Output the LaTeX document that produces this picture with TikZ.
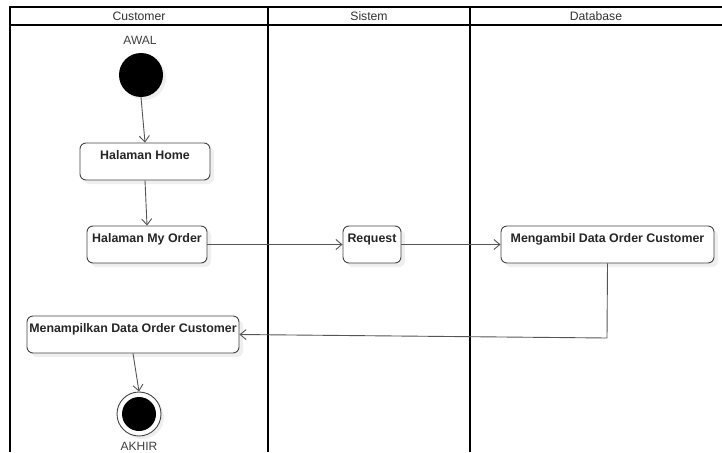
\documentclass[tikz,border=0pt]{standalone}
\usepackage{fontspec}
\setmainfont{Liberation Sans}
\usetikzlibrary{arrows.meta,shadows}
\definecolor{edge}{HTML}{555555}
\definecolor{boxline}{HTML}{444444}
\tikzset{
  lane/.style={draw=black, line width=1.5pt},
  actbox/.style={draw=boxline, line width=0.9pt, rounded corners=6pt, fill=white,
    font=\bfseries\fontsize{12.4}{14}\selectfont, text=black!85,
    inner xsep=2pt, inner ysep=4pt, text height=12pt, text depth=17pt,
    drop shadow={opacity=0.12, shadow xshift=4pt, shadow yshift=-4pt}},
  flow/.style={draw=edge, line width=0.9pt, -{Straight Barb[length=6pt,width=10pt]}},
  lbl/.style={font=\fontsize{12}{14}\selectfont, text=black!75},
  hdr/.style={font=\fontsize{12.2}{14}\selectfont, text=black!80}
}
\begin{document}
\begin{tikzpicture}[x=1pt,y=-1pt]
\useasboundingbox (0,0) rectangle (722,452);
\fill[white] (0,0) rectangle (722,452);
% swimlanes
\draw[lane] (10,452) -- (10,7) -- (723,7);
\draw[lane] (10,25) -- (723,25);
\draw[lane] (268,7) -- (268,452);
\draw[lane] (470,7) -- (470,452);
\node[hdr] (hc) at (139,16) {Customer};
\node[hdr] (hs) at (369,16) {Sistem};
\node[hdr] (hd) at (596,16) {Database};
% start
\node[lbl] (awal) at (140,40) {AWAL};
\node[circle, fill=black, minimum size=44pt, inner sep=0pt,
  drop shadow={opacity=0.12, shadow xshift=3pt, shadow yshift=-3pt}] (start) at (141,75) {};
% boxes
\node[actbox, minimum width=130pt] (home) at (145,161.5) {Halaman Home};
\node[actbox, minimum width=120pt] (myorder) at (147,244.5) {Halaman My Order};
\node[actbox, minimum width=58pt] (req) at (372,244.5) {Request};
\node[actbox, minimum width=213pt] (ambil) at (607.5,244.5) {Mengambil Data Order Customer};
\node[actbox, minimum width=212pt] (tampil) at (133,334.5) {Menampilkan Data Order Customer};
% end
\node[circle, draw=boxline, line width=0.9pt, fill=white, minimum size=44pt, inner sep=0pt,
  drop shadow={opacity=0.12, shadow xshift=3pt, shadow yshift=-3pt}] (stop) at (139,414) {};
\node[circle, fill=black, minimum size=34pt, inner sep=0pt] (stopin) at (stop) {};
\node[lbl] (akhir) at (139,446) {AKHIR};
% connectors
\draw[flow] (start.south) -- (home.north);
\draw[flow] (home.south) -- (myorder.north);
\draw[flow] (myorder.east) -- (req.west);
\draw[flow] (req.east) -- (ambil.west);
\draw[flow] (ambil.south) -- (607,338) -- (tampil.east);
\draw[flow] (tampil.south) -- (stop.north);
\end{tikzpicture}
\end{document}
